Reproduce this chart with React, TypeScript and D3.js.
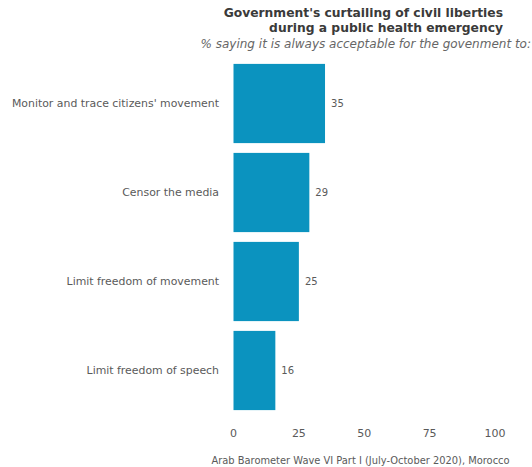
import React from "react";
import * as d3 from "d3";

const categories = [
  "Monitor and trace citizens' movement",
  "Censor the media",
  "Limit freedom of movement",
  "Limit freedom of speech",
];
const values = [35, 29, 25, 16];
const ticks = [0, 25, 50, 75, 100];
const titleLines = [
  "Government's curtailing of civil liberties",
  "during a public health emergency",
];
const subtitle = "% saying it is always acceptable for the govenment to:";
const caption = "Arab Barometer Wave VI Part I (July-October 2020), Morocco";

const W = 532;
const H = 467;
const FONT = "'DejaVu Sans', 'Open Sans', sans-serif";

export default function App() {
  const x = d3.scaleLinear().domain([0, 100]).range([233.5, 495]);
  const y = d3
    .scaleBand<string>()
    .domain(categories)
    .range([59, 415])
    .paddingInner(0.11)
    .paddingOuter(0.055);

  return (
    <svg
      width={W}
      height={H}
      style={{ position: "absolute", left: 0, top: 0, background: "#fff" }}
      fontFamily={FONT}
    >
      {titleLines.map((t, i) => (
        <text
          key={t}
          x={503}
          y={17 + i * 15}
          textAnchor="end"
          fontSize={12.3}
          fontWeight={700}
          fill="#3a3a3a"
        >
          {t}
        </text>
      ))}
      <text
        x={531}
        y={47.5}
        textAnchor="end"
        fontSize={12}
        fontStyle="italic"
        fill="#666"
      >
        {subtitle}
      </text>
      {categories.map((c, i) => {
        const yy = y(c)!;
        const bh = y.bandwidth();
        return (
          <g key={c}>
            <rect
              x={x(0)}
              y={yy}
              width={x(values[i]) - x(0)}
              height={bh}
              fill="#0b93bf"
            />
            <text
              x={219}
              y={yy + bh / 2}
              dy="0.35em"
              textAnchor="end"
              fontSize={10.9}
              fill="#5a5a5a"
            >
              {c}
            </text>
            <text
              x={x(values[i]) + 6}
              y={yy + bh / 2}
              dy="0.35em"
              fontSize={10}
              fill="#5a5a5a"
            >
              {values[i]}
            </text>
          </g>
        );
      })}
      {ticks.map((t) => (
        <text
          key={t}
          x={x(t)}
          y={433}
          dy="0.35em"
          textAnchor="middle"
          fontSize={11}
          fill="#5a5a5a"
        >
          {t}
        </text>
      ))}
      <text x={360.5} y={461} dy="0.35em" textAnchor="middle" fontSize={9.9} fill="#5a5a5a">
        {caption}
      </text>
    </svg>
  );
}
